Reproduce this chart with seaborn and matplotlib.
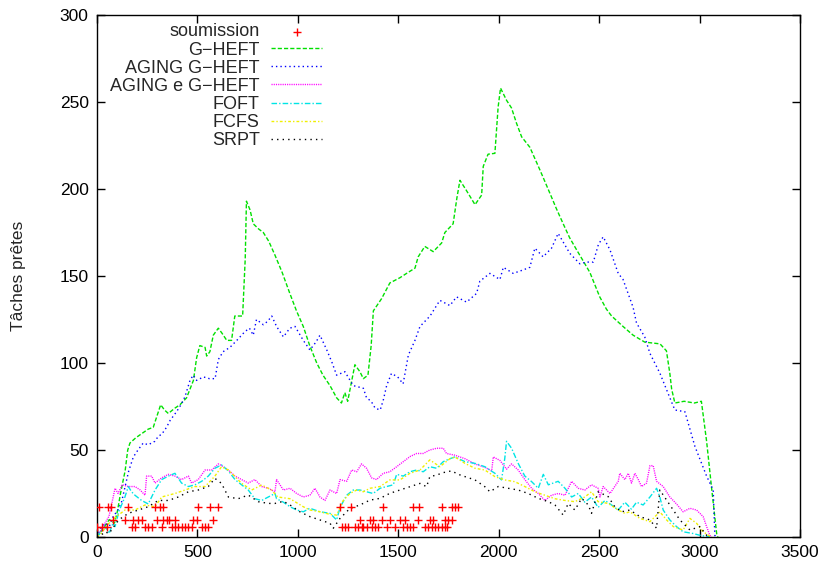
import matplotlib
matplotlib.use("Agg")
import matplotlib.pyplot as plt
import seaborn as sns

# ---- submission events: times grouped by the number of submitted tasks ----
soumission_levels = [17, 9.5, 6]
soumission_t17 = [10, 56, 70, 156, 289, 314, 330, 504, 562, 601,
                  1210, 1263, 1425, 1571, 1604, 1716, 1769, 1782, 1795]
soumission_t9 = [81, 139, 181, 206, 222, 297, 330, 347, 358, 388, 479, 496, 579,
                 1309, 1359, 1376, 1417, 1458, 1508, 1533, 1600, 1658, 1674, 1732, 1749, 1765]
soumission_t6 = [0, 23, 48, 172, 189, 239, 255, 272, 322, 372, 388, 405, 421, 438, 455, 471,
                 521, 538, 554, 1220, 1234, 1251, 1284, 1301, 1317, 1326, 1342, 1367, 1384,
                 1400, 1442, 1483, 1525, 1541, 1558, 1575, 1633, 1649, 1666, 1683, 1699, 1716,
                 1732, 1745]

# ---- G-HEFT ----
gheft_x = [0, 31, 61, 87, 102, 117, 131, 140, 153, 164, 193, 230, 255, 280, 297, 317, 336, 355,
           387, 413, 446, 480, 496, 512, 538, 546, 562, 579, 604, 623, 646, 670, 686, 725, 738,
           744, 762, 778, 805, 828, 855, 886, 922, 960, 993, 1027, 1059, 1094, 1125, 1160, 1193,
           1217, 1234, 1248, 1284, 1309, 1326, 1349, 1365, 1376, 1417, 1458, 1508, 1548, 1583,
           1599, 1632, 1674, 1716, 1732, 1773, 1792, 1807, 1840, 1882, 1915, 1923, 1947, 1981,
           1997, 2009, 2039, 2064, 2088, 2114, 2155, 2205, 2255, 2286, 2321, 2353, 2388, 2424,
           2454, 2503, 2536, 2562, 2619, 2669, 2727, 2803, 2835, 2852, 2861, 2877, 2923, 2974,
           3009, 3035, 3060, 3085, 3091]
gheft_y = [0, 5, 10, 8, 15, 25, 33, 38, 50, 54, 57, 60, 62, 63, 69, 76, 73, 71,
           74, 76, 80, 90, 103, 110, 109, 104, 106.5, 116, 120, 117, 113, 113, 127, 127, 160,
           193, 188, 180, 177, 175, 170, 162, 152, 140, 130, 121, 110, 100, 93, 87, 80,
           77, 83, 78, 99, 95, 91, 93, 110, 130, 137, 146, 149, 152, 154.5,
           161, 167, 164, 169, 175, 180, 195, 205, 199, 191, 196.5, 213, 220, 220.5,
           247, 258, 251, 246.5, 238, 230, 224, 211, 197.5, 189, 180, 172, 165, 158,
           152, 138, 131, 127, 121, 116, 112, 111, 107, 94, 85, 77, 78, 77,
           78, 55, 28, 2, 0]

# ---- AGING G-HEFT ----
aging_x = [0, 20, 41, 61, 81, 102, 122, 140, 158, 181, 204, 230, 255, 288, 306, 322, 346, 364,
           396, 418, 438, 463, 479, 496, 530, 560, 588, 604, 628, 662, 696, 736, 759, 778, 794,
           828, 850, 870, 894, 928, 960, 986, 1027, 1060, 1090, 1110, 1144, 1171, 1193, 1234,
           1276, 1326, 1342, 1365, 1385, 1410, 1426, 1442, 1466, 1497, 1524, 1550, 1583, 1608,
           1658, 1707, 1757, 1790, 1840, 1890, 1906, 1956, 2006, 2023, 2072, 2122, 2155, 2180,
           2221, 2263, 2296, 2321, 2354, 2404, 2437, 2471, 2496, 2520, 2554, 2595, 2619, 2669,
           2686, 2727, 2753, 2803, 2852, 2877, 2927, 2977, 3035, 3068, 3076, 3080]
aging_y = [0, 5, 8, 6, 12, 15, 20, 29, 38, 46, 50, 54, 53, 55, 58, 59, 63, 67,
           72, 76, 80.6, 90, 93, 90, 92, 91, 91, 102, 106.5, 109, 113, 118, 120, 116, 125,
           122, 124, 127, 121, 115, 120, 121, 113, 107.5, 112, 116, 107.5, 100, 93, 95,
           87, 85.5, 80, 78, 74, 73, 79, 87, 94, 92, 88, 104.5, 113, 121,
           127, 136, 133, 138, 135, 140, 147, 151.5, 148, 155, 151.5, 153.5, 155, 166,
           161, 166, 174.5, 169.5, 163, 157, 158, 158, 168, 172.5, 165, 151.5, 148, 132,
           123, 115, 105.5, 94, 80, 73, 72, 52, 35, 27, 1, 0]

# ---- AGING e G-HEFT ----
aginge_x = [0, 20, 40, 60, 75, 90, 105, 125, 156, 189, 215, 239, 247, 272, 289, 322, 355, 388,
            421, 455, 471, 504, 538, 571, 604, 620, 654, 687, 720, 753, 786, 820, 853, 886, 894,
            928, 961, 994, 1027, 1060, 1085, 1110, 1135, 1160, 1193, 1210, 1243, 1268, 1293,
            1317, 1342, 1367, 1392, 1425, 1458, 1492, 1525, 1558, 1591, 1624, 1657, 1691, 1724,
            1740, 1782, 1832, 1882, 1931, 1965, 1973, 2006, 2039, 2064, 2097, 2130, 2164, 2197,
            2230, 2263, 2296, 2330, 2363, 2396, 2429, 2462, 2495, 2504, 2520, 2554, 2595, 2603,
            2628, 2645, 2661, 2678, 2695, 2711, 2736, 2753, 2769, 2786, 2819, 2852, 2885, 2918,
            2952, 2985, 3018, 3035, 3051, 3060]
aginge_y = [0, 4, 8, 12, 20, 28, 25, 30, 29, 29, 27, 24, 35, 35, 31, 34, 36, 35,
            33, 35, 31, 33, 38.5, 38.5, 42, 41, 38.5, 35, 33, 31, 33, 29, 28, 26, 33,
            27, 28, 25, 23, 24, 28, 23, 21, 27, 25, 33, 32, 38.5, 37.5,
            42, 39.5, 34, 33, 36.6, 37.5, 40.4, 43.3, 46.2, 48, 48, 50, 51, 51,
            48, 47, 45, 42, 40, 38, 46, 44, 39, 42, 38.5, 33, 28, 25,
            21, 24, 25, 24, 32, 28, 27, 30, 28, 23, 29, 25, 32, 36.6,
            33, 36.6, 31, 36.6, 33, 29, 31, 41, 41, 32, 29, 23, 19, 14.5,
            16.5, 15.5, 11.7, 6, 1, 0]

# ---- FOFT ----
foft_x = [0, 20, 40, 60, 80, 90, 110, 139, 156, 172, 189, 222, 255, 289, 322, 355, 388, 421,
          455, 488, 521, 554, 587, 620, 654, 687, 720, 753, 786, 820, 853, 886, 894, 928, 961,
          994, 1027, 1060, 1110, 1160, 1193, 1210, 1243, 1276, 1309, 1342, 1375, 1409, 1442,
          1475, 1492, 1525, 1558, 1591, 1624, 1657, 1691, 1724, 1757, 1782, 1832, 1882, 1931,
          1981, 2014, 2030, 2039, 2064, 2097, 2130, 2164, 2197, 2222, 2247, 2296, 2330, 2363,
          2396, 2429, 2462, 2495, 2529, 2562, 2595, 2628, 2661, 2686, 2719, 2753, 2786, 2802,
          2819, 2852, 2885, 2918, 2968, 3001, 3051]
foft_y = [0, 3, 6, 2, 8, 6, 15, 23, 29, 26, 24, 21, 19, 27, 33, 35, 36.6, 31,
          29, 30, 32, 35, 39.5, 41.4, 38, 33, 30, 27, 22, 21, 23, 25, 22, 20, 17.4,
          15.5, 14.5, 16.5, 14.5, 13.6, 9.8, 17, 24, 27, 27, 26, 25, 28, 29,
          30, 36, 35, 37.5, 38.5, 37.5, 40.4, 39.5, 43.3, 45, 46, 43.3, 42.3, 40.4,
          36.6, 32.8, 45, 55, 51, 42.3, 35, 31.8, 28, 36, 30, 32, 28, 23,
          25, 20, 23, 17, 21, 18.4, 15.5, 20, 16, 20, 18.4, 23, 28, 23,
          15.5, 9.8, 6, 3, 2, 1, 0]

# ---- FCFS ----
fcfs_x = [0, 20, 40, 60, 80, 100, 139, 189, 239, 289, 322, 388, 438, 488, 538, 587, 620, 654,
          687, 720, 770, 820, 869, 900, 961, 1027, 1060, 1110, 1160, 1193, 1226, 1259, 1293,
          1326, 1359, 1409, 1458, 1508, 1558, 1608, 1657, 1707, 1757, 1782, 1832, 1882, 1931,
          1981, 2030, 2080, 2130, 2180, 2230, 2280, 2330, 2379, 2429, 2462, 2495, 2545, 2595,
          2628, 2653, 2703, 2753, 2802, 2836, 2869, 2918, 2952, 2985, 3018, 3051, 3060]
fcfs_y = [0, 2, 5, 8, 10, 12, 15.5, 15.5, 18.4, 17.4, 23, 25, 27, 29, 29, 35, 40.4, 38.5,
          34.7, 30.8, 27, 29.9, 27, 23, 22, 17.4, 15.5, 14.5, 13, 12.6, 21, 25, 27,
          26, 28, 29, 32.8, 32.8, 36.6, 38.5, 44.3, 40.4, 45, 46, 42.3, 39.5, 38.5,
          34.7, 32.8, 31.8, 29, 26, 24, 22, 21, 20.3, 23, 26, 20.3, 19.3, 15.5,
          13.6, 14.5, 10.7, 8.8, 14.5, 9.8, 6, 4, 10.7, 7.9, 3, 0.5, 0]

# ---- SRPT ----
srpt_x = [0, 20, 40, 60, 90, 110, 156, 206, 255, 305, 355, 405, 455, 504, 554, 587, 620, 654,
          703, 753, 803, 853, 886, 928, 961, 1010, 1060, 1110, 1160, 1176, 1210, 1259, 1309,
          1359, 1409, 1458, 1508, 1558, 1608, 1641, 1657, 1691, 1724, 1765, 1799, 1832, 1882,
          1931, 1956, 1998, 2047, 2097, 2147, 2197, 2247, 2280, 2321, 2346, 2379, 2413, 2446,
          2462, 2495, 2545, 2578, 2612, 2653, 2703, 2753, 2786, 2802, 2836, 2869, 2902, 2952,
          3001, 3035, 3051]
srpt_y = [0, 1, 3, 2, 7, 10, 13.6, 15.5, 17.4, 21, 21, 23, 26, 27, 29, 33.7, 30.8, 23,
          22, 24.1, 20.3, 19.3, 19.3, 20.5, 18.4, 14.5, 11.7, 9.8, 7.9, 5, 10.7, 16.4, 18.4,
          21.2, 22.2, 25.1, 27, 28.9, 30.8, 28.9, 34.7, 35.6, 37, 38, 36, 34.7, 32.8,
          28.9, 26, 29, 28, 27, 25, 22.2, 20.3, 18.4, 12.6, 19.3, 15.5, 22.2, 18.4,
          13.6, 26, 23.2, 17.4, 14.5, 15.5, 11.7, 9.8, 5, 27, 21.2, 15.5, 9.8, 4,
          6, 1, 0]

x_ticks = [0, 500, 1000, 1500, 2000, 2500, 3000, 3500]
y_ticks = [0, 50, 100, 150, 200, 250, 300]

sns.set_style("ticks")
plt.rcParams["font.family"] = ["Liberation Sans", "DejaVu Sans"]
plt.rcParams["font.size"] = 12.5

fig = plt.figure(figsize=(8.24, 5.68), dpi=100)
ax = fig.add_axes([97 / 824, 31 / 568, 703 / 824, 522 / 568])

# submission events as a single scatter series
sub_x, sub_y = [], []
for level, times in zip(soumission_levels, [soumission_t17, soumission_t9, soumission_t6]):
    sub_x.extend(times)
    sub_y.extend([level] * len(times))
sns.scatterplot(x=sub_x, y=sub_y, ax=ax, marker="+", color="#ff0000",
                s=28, linewidth=1.0, label="soumission", zorder=5)

series = [
    (gheft_x, gheft_y, "G\u2212HEFT", "#00e000", (0, (3.0, 1.5))),
    (aging_x, aging_y, "AGING G\u2212HEFT", "#0000ff", (0, (1.0, 2.2))),
    (aginge_x, aginge_y, "AGING e G\u2212HEFT", "#ff00ff", (0, (0.8, 0.8))),
    (foft_x, foft_y, "FOFT", "#00e5e5", (0, (4.0, 1.5, 1.0, 1.5))),
    (fcfs_x, fcfs_y, "FCFS", "#f0f000", (0, (2.0, 1.5, 1.0, 1.5))),
    (srpt_x, srpt_y, "SRPT", "#000000", (0, (1.0, 3.0))),
]
for xs, ys, name, col, ls in series:
    sns.lineplot(x=xs, y=ys, ax=ax, color=col, linestyle=ls, linewidth=1.0,
                 label=name, estimator=None, sort=False)

ax.set_xlim(0, 3500)
ax.set_ylim(0, 300)
ax.set_xticks(x_ticks)
ax.set_yticks(y_ticks)
ax.set_xlabel("")
ax.set_ylabel("Tâches prêtes", fontsize=12.5, labelpad=24)
ax.tick_params(direction="in", top=True, right=True, length=6, width=1,
               labelsize=12.5, pad=6, colors="black")
for sp in ax.spines.values():
    sp.set_visible(True)
    sp.set_linewidth(1.0)
    sp.set_color("black")

handles, labels = ax.get_legend_handles_labels()
ax.legend(handles, labels, loc="upper right", bbox_to_anchor=((322 - 97) / 703, (537 - 23.5) / 522),
          frameon=False, markerfirst=False, borderpad=0, borderaxespad=0,
          handlelength=2.8, handletextpad=0.65, labelspacing=0.06, fontsize=13,
          scatterpoints=1)

fig.savefig("out.png", dpi=100)
